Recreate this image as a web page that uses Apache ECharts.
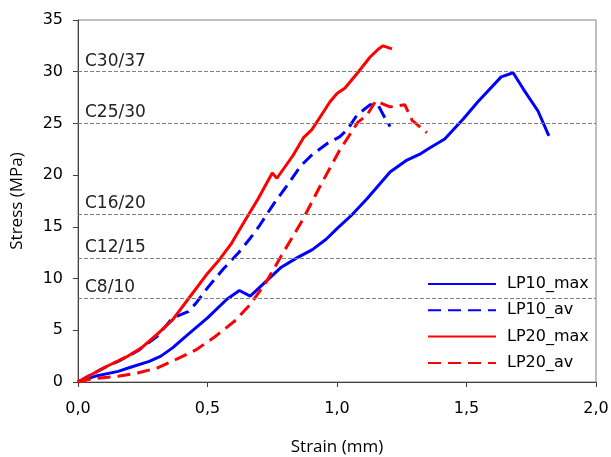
<!DOCTYPE html>
<html><head><meta charset="utf-8">
<script src="https://cdn.jsdelivr.net/npm/echarts@6/dist/echarts.min.js"></script>
<style>html,body{margin:0;padding:0;background:#fff}#c{width:611px;height:457px}</style>
</head><body><div id="c"></div>
<script>
var lp10MaxX = [0,0.065,0.155,0.2,0.275,0.32,0.365,0.425,0.5,0.575,0.623,0.665,0.725,0.785,0.845,0.905,0.958,1.003,1.055,1.115,1.16,1.205,1.266,1.318,1.356,1.416,1.49,1.544,1.634,1.68,1.72,1.776,1.818];
var lp10MaxY = [0,0.55,1.03,1.4,2.0,2.5,3.3,4.6,6.2,8.0,8.85,8.3,9.7,11.1,12.0,12.8,13.8,14.9,16.1,17.7,19.0,20.3,21.4,22.0,22.6,23.5,25.5,27.1,29.5,29.9,28.3,26.2,23.8];
var lp10AvX = [0,0.05,0.095,0.155,0.23,0.305,0.365,0.395,0.425,0.455,0.5,0.56,0.62,0.665,0.703,0.755,0.81,0.86,0.905,0.965,1.01,1.04,1.077,1.127,1.158,1.19,1.205];
var lp10AvY = [0,0.7,1.3,2.0,3.0,4.4,6.2,6.5,6.8,7.6,9.1,10.9,12.5,13.9,15.2,17.2,19.1,20.9,22.0,23.1,23.7,24.4,25.8,26.8,26.8,25.3,24.7];
var lp20MaxX = [0,0.05,0.11,0.185,0.245,0.305,0.365,0.425,0.5,0.545,0.59,0.635,0.695,0.75,0.768,0.83,0.87,0.903,0.95,0.973,1.0,1.03,1.08,1.127,1.16,1.178,1.212];
var lp20MaxY = [0,0.7,1.5,2.4,3.3,4.6,6.0,8.0,10.5,11.8,13.3,15.2,17.7,20.2,19.7,21.9,23.6,24.4,26.2,27.1,27.9,28.4,29.9,31.4,32.2,32.5,32.2];
var lp20AvX = [0,0.05,0.155,0.23,0.305,0.38,0.455,0.53,0.605,0.665,0.725,0.785,0.83,0.868,0.934,1.01,1.08,1.116,1.15,1.185,1.205,1.262,1.29,1.347];
var lp20AvY = [0,0.3,0.55,0.87,1.35,2.2,3.1,4.4,5.9,7.5,9.6,12.2,14.1,15.7,18.9,22.4,25.1,25.8,27.2,26.8,26.6,26.8,25.3,24.1];
var refLevels = [30,25,16.2,12,8.1];
var refLabels = ['C30/37','C25/30','C16/20','C12/15','C8/10'];
var seriesNames = ['LP10_max','LP10_av','LP20_max','LP20_av'];

function pairs(xs, ys){ return xs.map(function(x,i){ return [x, ys[i]]; }); }
var FONT = 'DejaVu Sans';
var NFONT = 'Open Sans';
function mk(name, xs, ys, color, dashed){
  return {name:name, type:'line', data:pairs(xs,ys), symbol:'none', showSymbol:false, smooth:false,
    lineStyle:{color:color, width:3, type: dashed ? [13,7] : 'solid'}, itemStyle:{color:color}, z:3};
}
var chart = echarts.init(document.getElementById('c'));
chart.setOption({
  animation:false,
  backgroundColor:'#fff',
  grid:{left:78, right:15, top:20, bottom:75, outerBoundsMode:'none', containLabel:false,
    show:true, borderColor:'#808080', borderWidth:1},
  xAxis:{type:'value', min:0, max:2, interval:0.5,
    name:'Strain (mm)', nameLocation:'middle', nameGap:57,
    nameTextStyle:{fontFamily:NFONT, fontSize:17, color:'#000'},
    axisLine:{lineStyle:{color:'#404040'}}, axisTick:{show:true, length:5, lineStyle:{color:'#404040'}},
    axisLabel:{fontFamily:FONT, fontSize:16, color:'#000', margin:19,
      formatter:function(v){ return v.toFixed(1).replace('.', ','); }},
    splitLine:{show:false}},
  yAxis:{type:'value', min:0, max:35, interval:5,
    name:'Stress (MPa)', nameLocation:'middle', nameGap:52,
    nameTextStyle:{fontFamily:NFONT, fontSize:17, color:'#000'},
    axisLine:{show:true, lineStyle:{color:'#404040'}}, axisTick:{show:true, length:5, lineStyle:{color:'#404040'}},
    axisLabel:{fontFamily:FONT, fontSize:16, color:'#000', margin:15},
    splitLine:{show:false}},
  legend:{orient:'vertical', left:422, top:271, itemWidth:68, itemHeight:16, itemGap:10.3,
    itemStyle:{opacity:0},
    data:seriesNames, textStyle:{fontFamily:FONT, fontSize:16, color:'#000', padding:[0,0,0,6]}},
  series:[
    {name:'ref', type:'line', data:[], silent:true,
      markLine:{symbol:'none', silent:true,
        lineStyle:{color:'#808080', width:1, type:[4,2]},
        label:{position:'insideStartTop', fontFamily:FONT, fontSize:17, color:'#222', distance:[7,2],
          formatter:function(p){ return p.name; }},
        data: refLevels.map(function(v,i){ return {yAxis:v, name:refLabels[i]}; })}},
    mk(seriesNames[0], lp10MaxX, lp10MaxY, '#0000FF', false),
    mk(seriesNames[1], lp10AvX, lp10AvY, '#0000FF', true),
    mk(seriesNames[2], lp20MaxX, lp20MaxY, '#FF0000', false),
    mk(seriesNames[3], lp20AvX, lp20AvY, '#FF0000', true)
  ]
});
</script></body></html>
